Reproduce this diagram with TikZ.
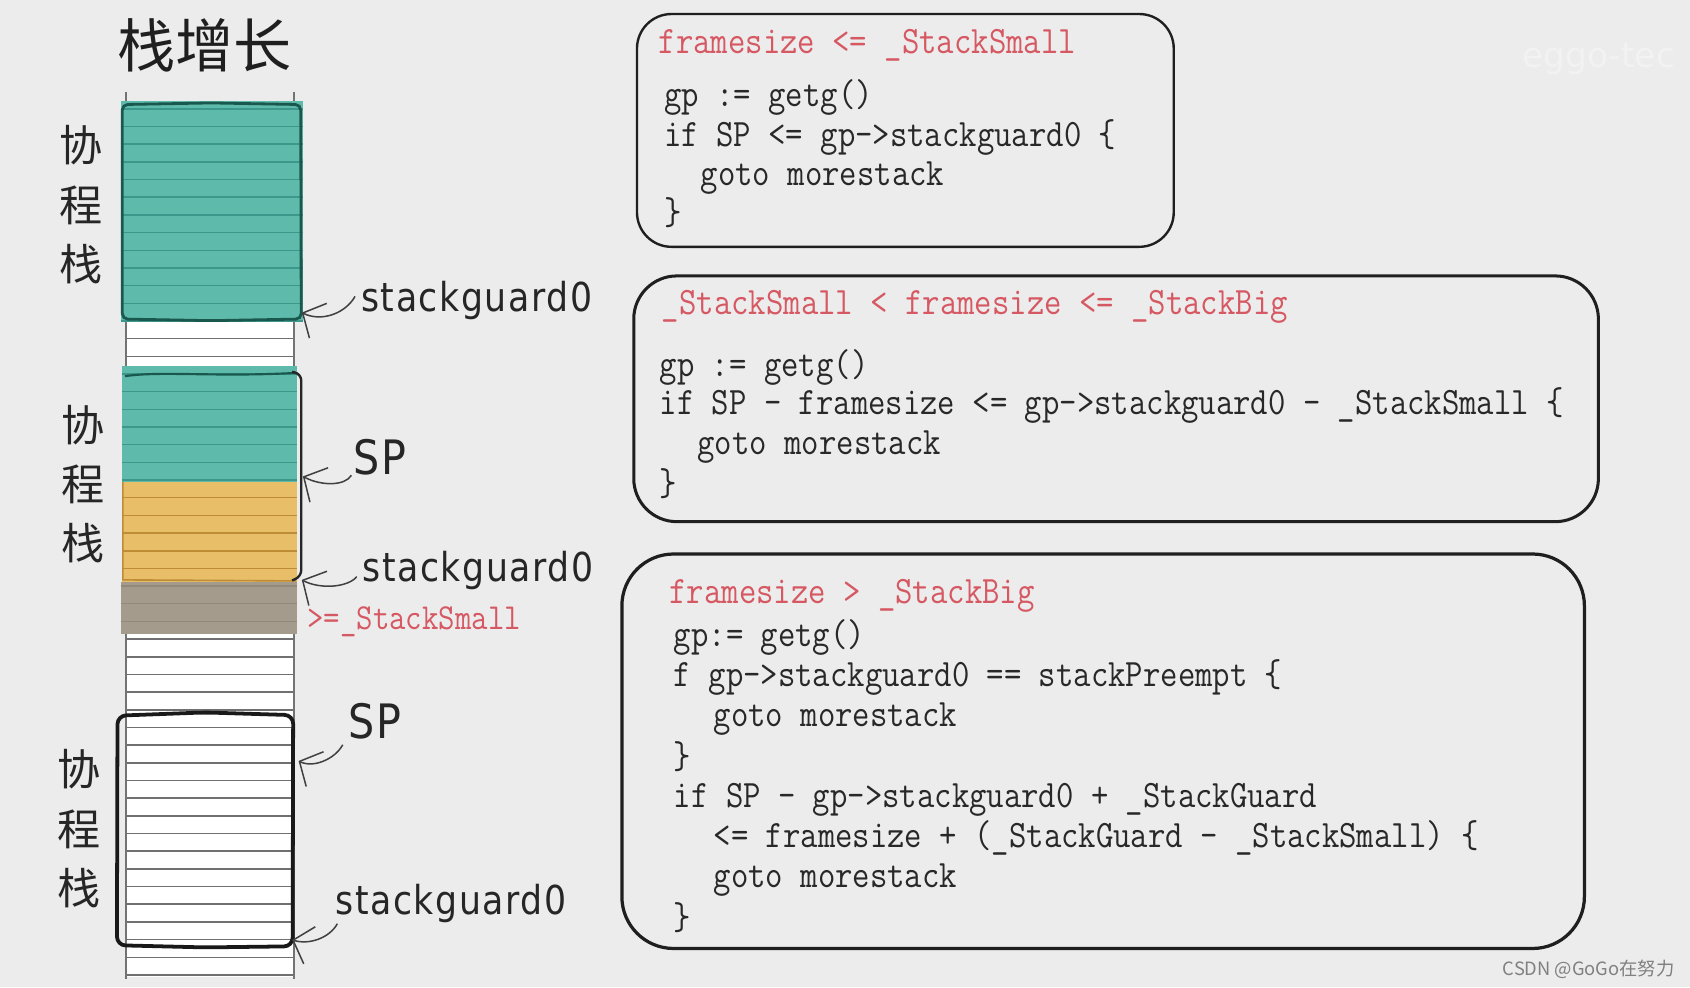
\documentclass[tikz,border=0pt]{standalone}
\usepackage{fontspec}
\setmainfont{Liberation Sans}
\newfontfamily\codefont[FakeStretch=0.87]{Latin Modern Mono}
\newfontfamily\handfont[FakeStretch=0.87,LetterSpace=4]{DejaVu Sans}
\newfontfamily\cjk{Noto Sans CJK SC}
\newfontfamily\wmfont{DejaVu Sans}
\usetikzlibrary{arrows.meta}
\definecolor{bg}{RGB}{236,236,236}
\definecolor{teal1}{RGB}{94,186,171}
\definecolor{tealline}{RGB}{60,152,139}
\definecolor{tealdark}{RGB}{26,88,78}
\definecolor{orange1}{RGB}{232,190,104}
\definecolor{orangeline}{RGB}{190,140,52}
\definecolor{gray1}{RGB}{164,155,141}
\definecolor{grayline}{RGB}{145,137,124}
\definecolor{stripe}{RGB}{112,112,112}
\definecolor{codered}{RGB}{214,88,98}
\definecolor{codeblack}{RGB}{40,40,40}
\begin{document}
\begin{tikzpicture}[x=1pt,y=-1pt,
  codeline/.style={anchor=base west, inner sep=0pt, text=codeblack, font=\codefont\fontsize{36}{40}\selectfont},
  codehead/.style={codeline, text=codered},
  handlbl/.style={anchor=west, inner sep=0pt, text=black!85, font=\handfont\fontsize{37}{40}\selectfont},
  splbl/.style={anchor=west, inner sep=0pt, text=black!85, font=\handfont\fontsize{44}{46}\selectfont},
  sidelbl/.style={inner sep=0pt, align=center, text=black!85, font=\cjk\fontsize{40}{55}\selectfont},
  codebox/.style={draw=black!88, inner sep=0pt},
  arr/.style={line width=1.4pt, draw=black!75, -{Straight Barb[length=16pt,width=36pt]}},
  stripeln/.style={line width=1.5pt, draw=stripe},
]
\useasboundingbox (0,0) rectangle (1568,916);
\fill[bg] (0,0) rectangle (1568,916);

% watermark
\node[anchor=base west, inner sep=0pt, text=white!30!bg, font=\wmfont\fontsize{32}{34}\selectfont] (wm) at (1412,63) {eggo-tec};

% title
\node[inner sep=0pt, text=black!88, font=\cjk\fontsize{54}{54}\selectfont] (title) at (190,42) {栈增长};

% stack column
\fill[white] (117,95) rectangle (273,906);
\foreach \k in {0,...,49} { \draw[stripeln] (117,{101+16.4*\k}) -- (273,{101+16.4*\k}); }
\draw[line width=1.5pt, black!55] (117,85) -- (117,908);
\draw[line width=1.5pt, black!55] (273,85) -- (273,908);

% block 1 (teal)
\begin{scope}
\clip (112,94) rectangle (281,298);
\fill[teal1] (112,94) rectangle (281,298);
\foreach \k in {0,...,49} { \draw[tealline, line width=1.4pt] (112,{101+16.4*\k}) -- (281,{101+16.4*\k}); }
\end{scope}
\draw[tealdark, line width=2.6pt, rounded corners=5pt] (113.5,97) -- (196,95.5) -- (279,97) -- (279.5,296) -- (196,297.5) -- (113.5,296) -- cycle;

% block 2 (teal + orange + gray)
\begin{scope}
\clip (113,340) rectangle (276,447);
\fill[teal1] (113,340) rectangle (276,447);
\foreach \k in {0,...,49} { \draw[tealline, line width=1.4pt] (113,{101+16.4*\k}) -- (276,{101+16.4*\k}); }
\end{scope}
\draw[tealdark, line width=2pt] (116,349) .. controls (150,344) and (200,350) .. (274,346);
\begin{scope}
\clip (113,447) rectangle (276,540);
\fill[orange1] (113,447) rectangle (276,540);
\foreach \k in {0,...,49} { \draw[orangeline, line width=1.4pt] (113,{101+16.4*\k}) -- (276,{101+16.4*\k}); }
\end{scope}
\draw[orangeline, line width=1.5pt] (114,447) -- (114,538) -- (275,539);
\begin{scope}
\clip (112,540) rectangle (276,588);
\fill[gray1] (112,540) rectangle (276,588);
\foreach \k in {0,...,49} { \draw[grayline, line width=1.2pt] (112,{101+16.4*\k}) -- (276,{101+16.4*\k}); }
\end{scope}
\draw[black!85, line width=2.2pt, rounded corners=6pt] (271,345) -- (279.5,347) -- (279.5,535) -- (271,538.5);

% block 3 (outlined)
\draw[black!90, line width=3.5pt, rounded corners=8pt] (109,664) -- (190,661) -- (272,663.5) -- (271.5,878) -- (190,879) -- (108.5,877) -- cycle;

% side labels
\node[sidelbl] (co1) at (75,190) {协\\程\\栈};
\node[sidelbl] (co2) at (77,449) {协\\程\\栈};
\node[sidelbl] (co3) at (73,769) {协\\程\\栈};

% stack labels
\node[handlbl] (sg1) at (335,279) {stackguard0};
\node[splbl] (sp1) at (328,424) {SP};
\node[handlbl] (sg2) at (336,529) {stackguard0};
\node[anchor=base west, inner sep=0pt, text=codered, font=\codefont\fontsize{34}{36}\selectfont] (ss) at (285,584) {>=\_StackSmall};
\node[splbl] (sp2) at (323,669.5) {SP};
\node[handlbl] (sg3) at (311,838) {stackguard0};

\coordinate (t1) at (280,290);
\coordinate (t2) at (281,442);
\coordinate (t3) at (280,538);
\coordinate (t4) at (277,706);
\coordinate (t5) at (271,872);

\draw[arr] ([xshift=-5.6pt,yshift=4pt]sg1.west) .. controls +(-9,16) and +(18,9) .. (t1);
\draw[arr] ([xshift=-2pt,yshift=-17pt]sp1.west) .. controls +(-6,10) and +(17,9) .. (t2);
\draw[arr] ([xshift=-5pt,yshift=-6pt]sg2.west) .. controls +(-8,10) and +(17,9) .. (t3);
\draw[arr] ([xshift=-5pt,yshift=-21.5pt]sp2.west) .. controls +(-7,13) and +(14,7) .. (t4);
\draw[arr] ([xshift=2pt,yshift=-19pt]sg3.west) .. controls +(-7,13) and +(16,5) .. (t5);

% code boxes
\node[codebox, line width=2.2pt, rounded corners=32pt, minimum width=498pt, minimum height=216pt] (box1) at (840,121) {};
\node[codebox, line width=2.8pt, rounded corners=40pt, minimum width=895pt, minimum height=228pt] (box2) at (1035.5,370) {};
\node[codebox, line width=3pt, rounded corners=48pt, minimum width=893pt, minimum height=366pt] (box3) at (1023.5,697) {};

% box 1 text
\node[codehead] (b1h) at (611,49.5) {framesize <= \_StackSmall};
\node[codeline] (b1l1) at (616,99) {gp := getg()};
\node[codeline] (b1l2) at (616,136) {if SP <= gp->stackguard0 \{};
\node[codeline] (b1l3) at (650,172) {goto morestack};
\node[codeline] (b1l4) at (616,208) {\}};

% box 2 text
\node[codehead] (b2h) at (614,292) {\_StackSmall < framesize <= \_StackBig};
\node[codeline] (b2l1) at (612,349.5) {gp := getg()};
\node[codeline] (b2l2) at (612,385) {if SP - framesize <= gp->stackguard0 - \_StackSmall \{};
\node[codeline] (b2l3) at (647,422) {goto morestack};
\node[codeline] (b2l4) at (612,460) {\}};

% box 3 text
\node[codehead] (b3h) at (621,559.5) {framesize > \_StackBig};
\node[codeline] (b3l1) at (625,600) {gp:= getg()};
\node[codeline] (b3l2) at (625,637) {f gp->stackguard0 == stackPreempt \{};
\node[codeline] (b3l3) at (662,674) {goto morestack};
\node[codeline] (b3l4) at (625,713) {\}};
\node[codeline] (b3l5) at (625,749) {if SP - gp->stackguard0 + \_StackGuard};
\node[codeline] (b3l6) at (662,786) {<= framesize + (\_StackGuard - \_StackSmall) \{};
\node[codeline] (b3l7) at (662,823) {goto morestack};
\node[codeline] (b3l8) at (625,862) {\}};

% csdn watermark
\node[inner sep=0pt, text=black!50, font=\cjk\fontsize{17}{17}\selectfont] (csdn) at (1474,899) {CSDN @GoGo在努力};
\end{tikzpicture}
\end{document}
